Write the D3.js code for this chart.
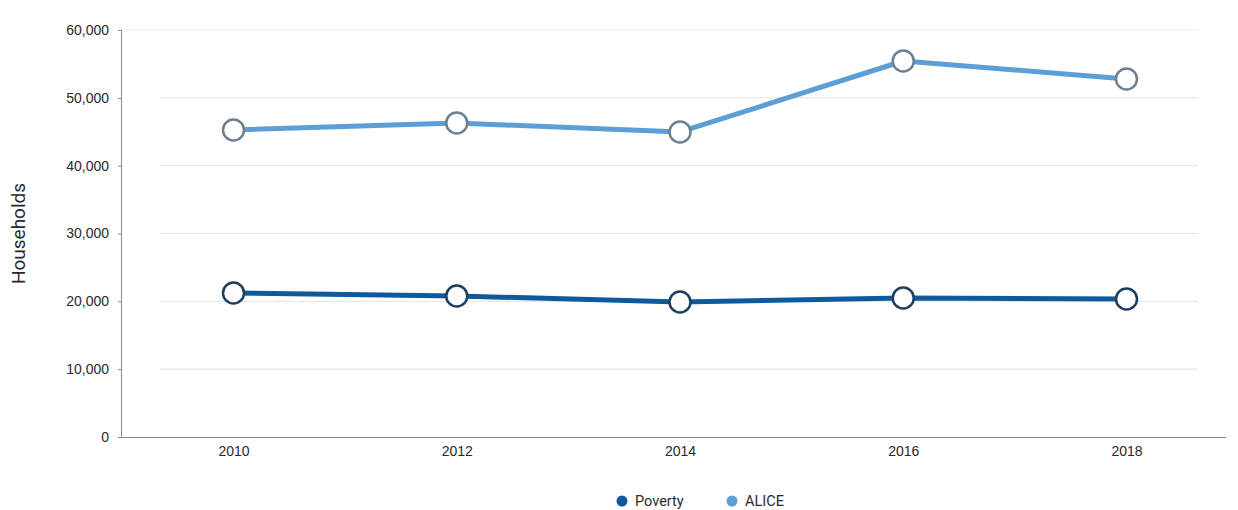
<!DOCTYPE html>
<html>
<head>
<meta charset="utf-8">
<script src="https://cdn.jsdelivr.net/npm/d3@7"></script>
<style>
  html, body { margin: 0; padding: 0; background: #fff; }
  svg { display: block; font-family: Roboto, "Open Sans", sans-serif; }
</style>
</head>
<body>
<svg id="chart" width="1238" height="510"></svg>
<script>
const years = ["2010", "2012", "2014", "2016", "2018"];
const povertyValues = [21230, 20790, 19900, 20490, 20350];
const aliceValues = [45260, 46290, 44970, 55430, 52780];
const yTicks = [0, 10000, 20000, 30000, 40000, 50000, 60000];
const seriesNames = ["Poverty", "ALICE"];
const seriesColors = ["#0f5a9c", "#5b9fd6"];
const markerStrokes = ["#1d3f5e", "#6f8090"];

const svg = d3.select("#chart");
const margin = { left: 122, right: 0, top: 30, bottom: 73 };
const W = 1238, H = 510;

const x = d3.scalePoint().domain(years).range([margin.left + 111.5, W - 111.5]);
const y = d3.scaleLinear().domain([0, 60000]).range([H - margin.bottom, margin.top]);

// gridlines
svg.append("g").selectAll("line").data(yTicks.filter(t => t > 0 && t < 60000)).join("line")
  .attr("x1", 160).attr("x2", 1198)
  .attr("y1", d => y(d)).attr("y2", d => y(d))
  .attr("stroke", "#e2e2e2").attr("stroke-width", 1);
svg.append("line")
  .attr("x1", margin.left).attr("x2", 1198)
  .attr("y1", y(60000)).attr("y2", y(60000))
  .attr("stroke", "#ececec").attr("stroke-width", 1);

// y axis
const yAxis = d3.axisLeft(y).tickValues(yTicks).tickSize(4).tickPadding(9)
  .tickFormat(d3.format(","));
const yg = svg.append("g").attr("transform", `translate(${margin.left},0)`).call(yAxis);
yg.select(".domain").attr("stroke", "#8a8a8a").attr("d", `M-0.5,${y(60000)}V${y(0)}`);
yg.selectAll(".tick line").attr("stroke", "#8a8a8a");
yg.selectAll(".tick text").attr("fill", "#2a2a2a").style("font-size", "14px");

// x axis
const xAxis = d3.axisBottom(x).tickSize(0).tickPadding(9);
const xg = svg.append("g").attr("transform", `translate(0,${y(0)})`).call(xAxis);
xg.select(".domain").attr("stroke", "#8a8a8a").attr("d", `M${margin.left},0.5H1226`);
xg.selectAll(".tick text").attr("fill", "#2a2a2a").style("font-size", "14px");

// y label
svg.append("text")
  .attr("transform", `translate(25,${(y(0) + y(60000)) / 2}) rotate(-90)`)
  .attr("text-anchor", "middle")
  .attr("fill", "#2a2a2a")
  .style("font-size", "19px")
  .text("Households");

const seriesData = [povertyValues, aliceValues];
const line = d3.line().x((d, i) => x(years[i])).y(d => y(d));

seriesData.forEach((vals, si) => {
  const g = svg.append("g");
  g.append("path").datum(vals)
    .attr("d", line)
    .attr("fill", "none")
    .attr("stroke", seriesColors[si])
    .attr("stroke-width", 5)
    .attr("stroke-linejoin", "round");
  g.selectAll("circle").data(vals).join("circle")
    .attr("cx", (d, i) => x(years[i]))
    .attr("cy", d => y(d))
    .attr("r", 10.5)
    .attr("fill", "#fff")
    .attr("stroke", markerStrokes[si])
    .attr("stroke-width", 2.5);
});

// legend
const legendPos = [622, 732];
const lg = svg.append("g");
seriesNames.forEach((name, i) => {
  lg.append("circle").attr("cx", legendPos[i]).attr("cy", 501).attr("r", 5.5)
    .attr("fill", seriesColors[i]);
  lg.append("text").attr("x", legendPos[i] + 13).attr("y", 506)
    .attr("fill", "#2a2a2a").style("font-size", "14.5px").text(name);
});
</script>
</body>
</html>
